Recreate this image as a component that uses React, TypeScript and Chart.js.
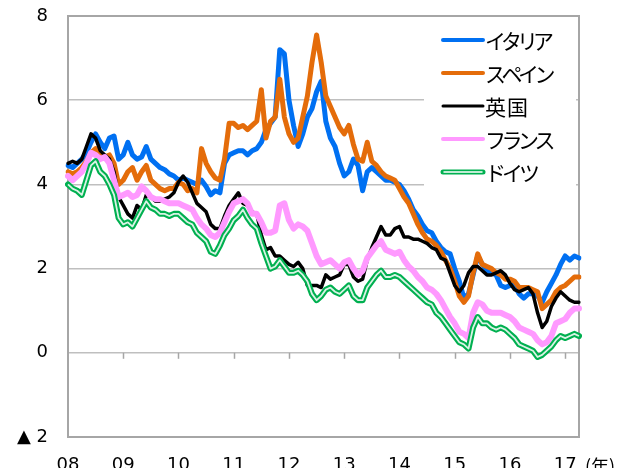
import React, { useEffect, useRef } from 'react';
import { Chart, registerables } from 'chart.js';

Chart.register(...registerables);

// Monthly categories Jan 2008 .. Apr 2017
const months: string[] = [];
for (let i = 0; i < 112; i++) {
  const y = 2008 + Math.floor(i / 12);
  const m = (i % 12) + 1;
  months.push(`${y}-${m < 10 ? '0' + m : m}`);
}

const seriesNames = ['イタリア', 'スペイン', '英国', 'フランス', 'ドイツ'];
const yearUnit = '(年)';

const italy = [
  4.45, 4.4, 4.5, 4.6, 4.75, 5.0, 5.2, 5.0, 4.85, 5.1, 5.15, 4.6,
  4.7, 5.0, 4.7, 4.6, 4.65, 4.9, 4.6, 4.5, 4.4, 4.35, 4.25, 4.2,
  4.1, 4.15, 4.1, 4.05, 4.0, 4.1, 3.95, 3.75, 3.85, 3.8, 4.5, 4.7,
  4.75, 4.8, 4.8, 4.7, 4.8, 4.85, 5.0, 5.3, 5.45, 5.6, 7.2, 7.1,
  6.0, 5.4, 4.9, 5.2, 5.6, 5.8, 6.2, 6.45, 5.5, 5.1, 4.9, 4.5,
  4.2, 4.3, 4.6, 4.45, 3.85, 4.3, 4.4, 4.3, 4.2, 4.1, 4.1, 4.05,
  4.0, 3.85, 3.65, 3.4, 3.25, 3.05, 2.9, 2.85, 2.65, 2.5, 2.4, 2.35,
  2.0, 1.7, 1.3, 1.4, 1.85, 2.3, 2.1, 1.95, 1.9, 1.85, 1.6, 1.55,
  1.6, 1.6, 1.4, 1.3, 1.4, 1.4, 1.35, 1.2, 1.45, 1.65, 1.85, 2.1,
  2.3, 2.2, 2.3, 2.25,
];

const spain = [
  4.3, 4.25, 4.3, 4.4, 4.55, 4.75, 4.85, 4.7, 4.65, 4.7, 4.5, 4.0,
  4.1, 4.3, 4.4, 4.1, 4.3, 4.45, 4.1, 4.0, 3.9, 3.85, 3.9, 3.9,
  4.05, 4.0, 3.85, 3.9, 3.8, 4.85, 4.5, 4.3, 4.15, 4.1, 4.6, 5.45,
  5.45, 5.35, 5.4, 5.3, 5.4, 5.5, 6.25, 5.1, 5.5, 5.6, 6.5, 5.6,
  5.2, 5.0, 5.1, 5.6, 6.1, 6.9, 7.55, 6.9, 6.1, 5.85, 5.6, 5.35,
  5.2, 5.4, 4.95, 4.6, 4.55, 5.0, 4.55, 4.45, 4.3, 4.2, 4.15, 4.1,
  3.9, 3.7, 3.55, 3.3, 3.05, 2.85, 2.7, 2.65, 2.55, 2.4, 2.2, 2.0,
  1.7, 1.35, 1.2, 1.35, 1.9, 2.35, 2.1, 2.05, 2.0, 1.9, 1.85, 1.75,
  1.75, 1.7, 1.55, 1.55, 1.55, 1.5, 1.45, 1.05, 1.15, 1.25, 1.45, 1.55,
  1.6, 1.7, 1.8, 1.8,
];

const uk = [
  4.5, 4.55, 4.5, 4.6, 4.9, 5.2, 5.1, 4.8, 4.7, 4.6, 4.3, 3.7,
  3.5, 3.3, 3.2, 3.5, 3.4, 3.75, 3.7, 3.6, 3.6, 3.65, 3.7, 3.8,
  4.05, 4.2, 4.05, 3.8, 3.55, 3.45, 3.35, 3.05, 2.95, 2.95, 3.25, 3.5,
  3.65, 3.8, 3.55, 3.5, 3.35, 3.3, 2.8, 2.45, 2.5, 2.3, 2.3, 2.2,
  2.1, 2.05, 2.15, 2.0, 1.6, 1.6, 1.6, 1.55, 1.85, 1.75, 1.8, 1.85,
  2.1, 2.1, 1.8, 1.7, 1.75, 2.2, 2.5, 2.75, 3.0, 2.8, 2.8, 2.95,
  3.0, 2.75, 2.75, 2.7, 2.7, 2.65, 2.6, 2.5, 2.45, 2.25, 2.2, 1.9,
  1.6, 1.45, 1.6, 1.9, 2.05, 2.05, 1.95, 1.85, 1.85, 1.9, 1.95, 1.85,
  1.65, 1.5, 1.45, 1.5, 1.55, 1.4, 0.95, 0.6, 0.75, 1.1, 1.3, 1.45,
  1.35, 1.25, 1.2, 1.2,
];

const france = [
  4.2, 4.1, 4.2, 4.3, 4.5, 4.75, 4.7, 4.6, 4.65, 4.5, 4.1, 3.7,
  3.75, 3.8, 3.7, 3.75, 3.95, 3.85, 3.7, 3.65, 3.65, 3.6, 3.55, 3.55,
  3.55, 3.5, 3.45, 3.4, 3.2, 3.05, 2.95, 2.8, 2.75, 2.85, 3.1, 3.35,
  3.55, 3.6, 3.65, 3.55, 3.3, 3.3, 3.1, 2.85, 2.85, 2.9, 3.5, 3.55,
  3.15, 2.95, 3.05, 3.0, 2.9, 2.6, 2.3, 2.1, 2.15, 2.2, 2.1, 2.0,
  2.15, 2.2, 2.0, 1.85, 1.95, 2.25, 2.4, 2.55, 2.65, 2.45, 2.4, 2.35,
  2.4, 2.2, 2.05, 1.95, 1.8, 1.7, 1.55, 1.5, 1.4, 1.25, 1.05, 0.85,
  0.7, 0.5, 0.45, 0.35, 0.95, 1.2, 1.15, 1.0, 0.95, 0.95, 0.95, 0.9,
  0.85, 0.75, 0.6, 0.55, 0.5, 0.45, 0.3, 0.2, 0.25, 0.4, 0.7, 0.75,
  0.8, 0.95, 1.05, 1.05,
];

const germany = [
  4.0, 3.9, 3.85, 3.75, 4.1, 4.45, 4.55, 4.3, 4.2, 4.0, 3.75, 3.2,
  3.05, 3.1, 3.0, 3.2, 3.4, 3.6, 3.45, 3.4, 3.3, 3.3, 3.25, 3.3,
  3.3, 3.2, 3.1, 3.05, 2.85, 2.75, 2.65, 2.4, 2.35, 2.55, 2.8, 2.95,
  3.15, 3.25, 3.4, 3.2, 3.05, 2.95, 2.6, 2.3, 2.0, 2.05, 2.2, 2.05,
  1.9, 1.9, 1.95, 1.85, 1.7, 1.4, 1.25, 1.35, 1.5, 1.55, 1.45, 1.4,
  1.5, 1.6, 1.35, 1.25, 1.25, 1.55, 1.7, 1.85, 1.95, 1.8, 1.8, 1.85,
  1.8, 1.7, 1.6, 1.5, 1.4, 1.3, 1.2, 1.15, 0.95, 0.85, 0.7, 0.55,
  0.4, 0.25, 0.2, 0.1, 0.6, 0.85, 0.7, 0.7, 0.6, 0.55, 0.6, 0.55,
  0.45, 0.35, 0.2, 0.15, 0.1, 0.05, -0.1, -0.05, 0.05, 0.15, 0.3, 0.4,
  0.35, 0.4, 0.45, 0.4,
];

const colors = ['#0070F2', '#E46C0A', '#000000', '#FF99FF', '#00B050'];
const widths = [5, 5, 3.5, 6, 6];
const legendSpacing = [-5, -4.5, 1, -4.5, -4];

const FONT = '"DejaVu Sans", Verdana, sans-serif';
const JFONT = '"Noto Sans CJK JP", sans-serif';

const framePlugin = {
  id: 'frameAndTicks',
  beforeDatasetsDraw(chart: any) {
    const { ctx, chartArea: a, scales } = chart;
    const y0 = scales.y.getPixelForValue(0);
    ctx.save();
    ctx.strokeStyle = '#a6a6a6';
    ctx.lineWidth = 1.5;
    for (let i = 12; i < months.length; i += 12) {
      const x = Math.round(scales.x.getPixelForValue(i)) + 0.5;
      ctx.beginPath();
      ctx.moveTo(x, y0);
      ctx.lineTo(x, y0 + 6);
      ctx.stroke();
    }
    ctx.lineWidth = 2;
    ctx.strokeRect(a.left, a.top, a.right - a.left, a.bottom - a.top);
    ctx.restore();
  },
  afterDraw(chart: any) {
    const { ctx, chartArea: a } = chart;
    ctx.save();
    ctx.fillStyle = '#000';
    ctx.font = `18px ${JFONT}`;
    ctx.textAlign = 'left';
    ctx.textBaseline = 'middle';
    ctx.fillText(yearUnit, a.right + 6, a.bottom + 29);
    ctx.restore();
  },
};

const legendPlugin = {
  id: 'boxLegend',
  afterDatasetsDraw(chart: any) {
    const { ctx, chartArea: a } = chart;
    const left = a.right - 155;
    const top = a.top + 6;
    ctx.save();
    ctx.fillStyle = '#ffffff';
    ctx.fillRect(left, top, 152, 172);
    seriesNames.forEach((name, k) => {
      const y = top + 18 + k * 33;
      const x1 = left + 19;
      const x2 = left + 59;
      if (k === 4) {
        ctx.strokeStyle = colors[k];
        ctx.lineWidth = 5;
        ctx.lineCap = 'round';
        ctx.beginPath();
        ctx.moveTo(x1, y);
        ctx.lineTo(x2, y);
        ctx.stroke();
        ctx.strokeStyle = '#ffffff';
        ctx.lineWidth = 1.5;
        ctx.beginPath();
        ctx.moveTo(x1 + 1, y);
        ctx.lineTo(x2 - 1, y);
        ctx.stroke();
      } else {
        ctx.strokeStyle = colors[k];
        ctx.lineWidth = k === 2 ? 3 : 4;
        ctx.lineCap = 'round';
        ctx.beginPath();
        ctx.moveTo(x1, y);
        ctx.lineTo(x2, y);
        ctx.stroke();
      }
      ctx.fillStyle = '#000';
      ctx.font = `21px ${JFONT}`;
      (ctx as any).letterSpacing = `${legendSpacing[k]}px`;
      ctx.textAlign = 'left';
      ctx.textBaseline = 'middle';
      ctx.fillText(name, x2 + 2, y + 1);
      (ctx as any).letterSpacing = '0px';
    });
    ctx.restore();
  },
};

export default function App() {
  const ref = useRef<HTMLCanvasElement | null>(null);

  useEffect(() => {
    if (!ref.current) return;
    const series = [italy, spain, uk, france, germany];
    const datasets: any[] = series.map((d, k) => ({
      label: seriesNames[k],
      data: d,
      borderColor: colors[k],
      backgroundColor: colors[k],
      borderWidth: widths[k],
      pointRadius: 0,
      tension: 0,
      fill: false,
      borderJoinStyle: 'round',
      borderCapStyle: 'round',
      order: 6 - k,
    }));
    datasets.push({
      label: 'ドイツ-inner',
      data: germany,
      borderColor: 'rgba(255,255,255,0.85)',
      borderWidth: 1.8,
      pointRadius: 0,
      tension: 0,
      fill: false,
      borderJoinStyle: 'round',
      order: 1,
    });

    const chart = new Chart(ref.current, {
      type: 'line',
      data: { labels: months, datasets },
      options: {
        responsive: false,
        animation: false,
        devicePixelRatio: 1,
        layout: { padding: { top: 16, right: 52, left: 0, bottom: 0 } },
        plugins: { legend: { display: false }, tooltip: { enabled: false } },
        scales: {
          x: {
            type: 'category',
            offset: false,
            grid: { display: false, drawTicks: false },
            border: { display: false },
            afterBuildTicks: (scale: any) => {
              scale.ticks = scale.ticks.filter((t: any) => t.value % 12 === 0);
            },
            afterFit: (scale: any) => {
              scale.height = 31;
            },
            ticks: {
              autoSkip: false,
              maxRotation: 0,
              minRotation: 0,
              padding: 18,
              color: '#000',
              font: { family: FONT, size: 18 },
              callback: (v: any) => months[v].slice(2, 4),
            },
          },
          y: {
            min: -2,
            max: 8,
            grid: { color: '#bfbfbf', lineWidth: 1.5, drawTicks: false },
            border: { display: false },
            afterFit: (scale: any) => {
              scale.width = 68;
              scale.paddingTop = 0;
              scale.paddingBottom = 0;
            },
            ticks: {
              stepSize: 2,
              padding: 20,
              color: '#000',
              font: { family: FONT, size: 18 },
              callback: (v: any) => (v < 0 ? '▲ ' + Math.abs(v) : String(v)),
            },
          },
        },
      },
      plugins: [framePlugin, legendPlugin],
    });
    return () => chart.destroy();
  }, []);

  return (
    <div style={{ position: 'fixed', left: 0, top: 0, width: 631, height: 468, background: '#fff' }}>
      <canvas ref={ref} width={631} height={468} />
    </div>
  );
}
